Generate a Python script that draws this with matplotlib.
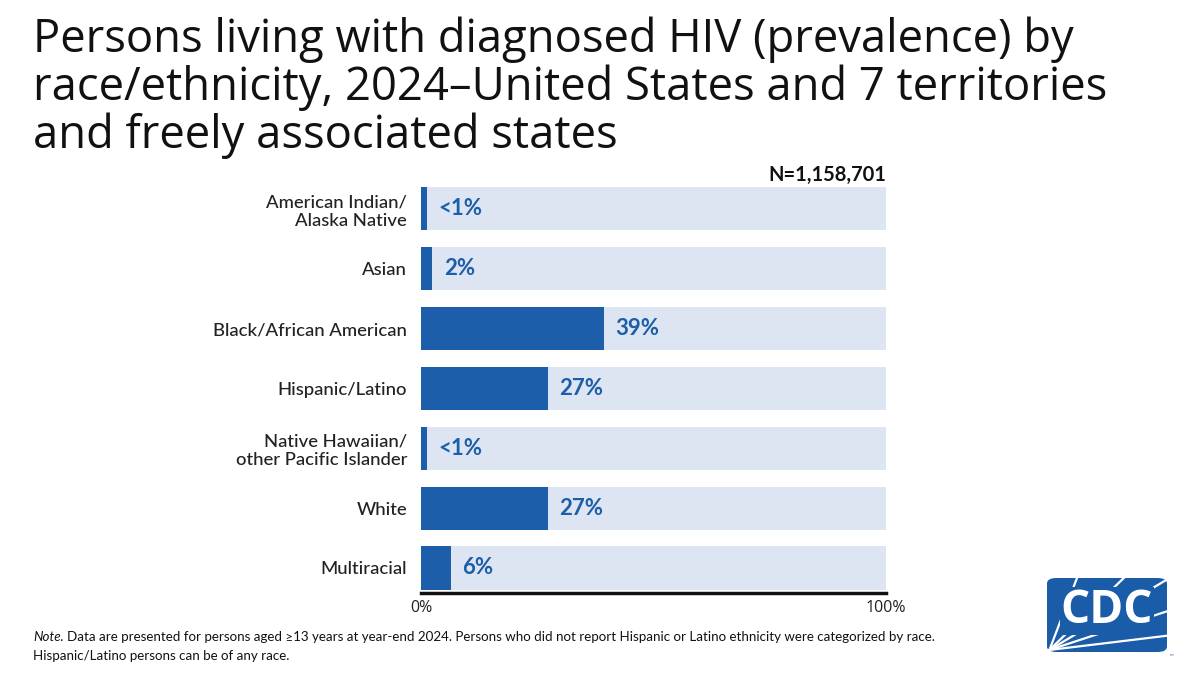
import matplotlib.pyplot as plt
from matplotlib.patches import FancyBboxPatch
from matplotlib.lines import Line2D

categories = ['American Indian/\nAlaska Native', 'Asian', 'Black/African American',
              'Hispanic/Latino', 'Native Hawaiian/\nother Pacific Islander', 'White', 'Multiracial']
values = [1.2, 2.4, 39.3, 27.3, 1.2, 27.3, 6.4]
value_labels = ['<1%', '2%', '39%', '27%', '<1%', '27%', '6%']
total = 100
tick_vals = [0, 100]
tick_labels = ['0%', '100%']

blue = '#1c5ea9'
light = '#dce5f1'

fig = plt.figure(figsize=(12, 6.75), dpi=100)
ax = fig.add_axes([0.3508, 0.1215, 0.3875, 0.6133])

y = list(range(len(categories)))
ax.barh(y, [total] * len(y), height=0.72, color=light)
ax.barh(y, values, height=0.72, color=blue)
for yi, v, lab in zip(y, values, value_labels):
    ax.text(v + 2.5, yi, lab, va='center', ha='left', color=blue,
            fontsize=16, fontweight='bold', family='Lato')

ax.set_xlim(0, 100)
ax.set_ylim(6.418, -0.5)
ax.set_yticks(y)
ax.set_yticklabels(categories, fontsize=13.3, family='Lato', color='#222222',
                   fontweight='medium')
ax.set_xticks(tick_vals)
ax.set_xticklabels(tick_labels, fontsize=11.5, family='Open Sans', color='#222222')
ax.tick_params(length=0, axis='y', pad=10)
ax.tick_params(length=0, axis='x', pad=5)
for s in ['top', 'right', 'left']:
    ax.spines[s].set_visible(False)
ax.spines['bottom'].set_linewidth(2.5)
ax.spines['bottom'].set_color('#111111')

ax.text(100, -0.47, 'N=1,158,701', ha='right', va='baseline', fontsize=14.5,
        fontweight='bold', family='Lato', color='#111111')

fig.text(0.0275, 0.975, 'Persons living with diagnosed HIV (prevalence) by\n'
         'race/ethnicity, 2024\u2013United States and 7 territories\n'
         'and freely associated states',
         ha='left', va='top', fontsize=32.7, family='Open Sans', color='#111111',
         linespacing=1.04)

# footnote: italic "Note." followed by the rest of the line
note = fig.text(0.0275, 0.057, 'Note.', fontsize=9.6, family='Lato', style='italic',
                color='#111111', va='center')
fig.canvas.draw()
bb = note.get_window_extent().transformed(fig.transFigure.inverted())
fig.text(bb.x1 + 0.003, 0.057, 'Data are presented for persons aged \u226513 years at year-end 2024. '
         'Persons who did not report Hispanic or Latino ethnicity were categorized by race.',
         fontsize=9.6, family='Lato', color='#111111', va='center')
fig.text(0.0275, 0.028, 'Hispanic/Latino persons can be of any race.',
         fontsize=9.6, family='Lato', color='#111111', va='center')

# CDC logo
lx0, ly0, lw, lh = 1047 / 1200, 1 - 652 / 675, 120 / 1200, 74 / 675
logo = FancyBboxPatch((lx0, ly0), lw, lh, boxstyle='round,pad=0,rounding_size=0.008',
                      transform=fig.transFigure, facecolor='#1a5ca8', edgecolor='none')
fig.patches.append(logo)
ox, oy = lx0 + 0.002, ly0 + 0.003
for ex, ey in [(lx0 + 0.025, ly0 + lh), (lx0 + 0.064, ly0 + lh), (lx0 + 0.1, ly0 + lh * 0.98),
               (lx0 + lw, ly0 + lh * 0.55), (lx0 + lw, ly0 + lh * 0.22)]:
    fig.lines.append(Line2D([ox, ex], [oy, ey], transform=fig.transFigure,
                            color='white', linewidth=1.6))
fig.text(lx0 + lw / 2, ly0 + lh * 0.56, 'CDC', ha='center', va='center', color='white',
         fontsize=33, fontweight='bold', family='Open Sans',
         bbox=dict(facecolor='#1a5ca8', edgecolor='none', pad=0.3))
fig.text(lx0 + lw + 0.001, ly0 - 0.004, '\u2122', fontsize=4, color='#1a5ca8',
         ha='left', va='top')

fig.savefig('out.png', dpi=100)
